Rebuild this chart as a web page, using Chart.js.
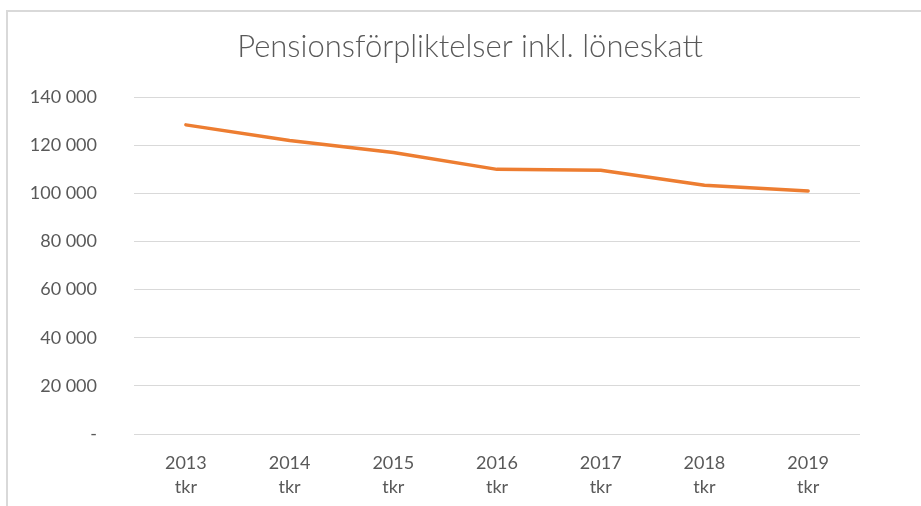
<!DOCTYPE html>
<html>
<head>
<meta charset="utf-8">
<script src="https://cdn.jsdelivr.net/npm/chart.js@4"></script>
<style>
  html, body { margin: 0; padding: 0; background: #fff; }
  #frame { position: absolute; left: 6px; top: 10px; width: 915px; height: 496px;
           border-left: 2px solid #d9d9d9; border-top: 2px solid #d9d9d9; }
  #c { position: absolute; left: 0; top: 0; }
</style>
</head>
<body>
<div id="frame"></div>
<canvas id="c" width="921" height="506"></canvas>
<script>
const years = ['2013', '2014', '2015', '2016', '2017', '2018', '2019'];
const unitLabel = 'tkr';
const values = [128500, 122000, 117000, 110000, 109600, 103400, 101000];
const titleText = 'Pensionsförpliktelser inkl. löneskatt';
const yMin = 0, yMax = 140000, yStep = 20000;

const textColor = '#595959';
const gridColor = '#d9d9d9';

function fmt(v) {
  if (v === 0) return '-';
  return String(v).replace(/\B(?=(\d{3})+(?!\d))/g, ' ');
}

new Chart(document.getElementById('c'), {
  type: 'line',
  data: {
    labels: years.map(y => [y, unitLabel]),
    datasets: [{
      data: values,
      yAxisID: 'y',
      borderColor: '#ED7D31',
      backgroundColor: '#ED7D31',
      borderWidth: 3.5,
      borderCapStyle: 'round',
      borderJoinStyle: 'round',
      pointRadius: 0,
      tension: 0,
      fill: false
    }]
  },
  options: {
    responsive: false,
    animation: false,
    layout: { padding: { left: 19, right: 0, top: 0, bottom: 0 } },
    plugins: {
      legend: { display: false },
      tooltip: { enabled: false },
      title: {
        display: true,
        text: titleText,
        color: textColor,
        font: { family: 'Lato', size: 31, weight: '300' },
        padding: { top: 28, bottom: 32 }
      }
    },
    scales: {
      x: {
        offset: true,
        grid: { display: false, drawTicks: false, tickLength: 0, offset: true },
        border: { display: false },
        ticks: {
          color: textColor,
          font: { family: 'Lato', size: 18, lineHeight: 1.35 },
          padding: 17,
          maxRotation: 0,
          autoSkip: false
        },
        afterFit(s) { s.height = 72; }
      },
      y: {
        min: yMin, max: yMax,
        grid: { color: gridColor, lineWidth: 1, drawTicks: false, tickLength: 0 },
        border: { display: false },
        ticks: {
          stepSize: yStep,
          color: textColor,
          font: { family: 'Lato', size: 18 },
          padding: 37,
          callback: v => fmt(v)
        },
        afterFit(s) { s.width = 115; }
      },
      yR: {
        position: 'right',
        display: true,
        grid: { display: false, drawTicks: false, tickLength: 0 },
        border: { display: false },
        ticks: { display: false },
        afterFit(s) { s.width = 61; }
      }
    }
  }
});
</script>
</body>
</html>
